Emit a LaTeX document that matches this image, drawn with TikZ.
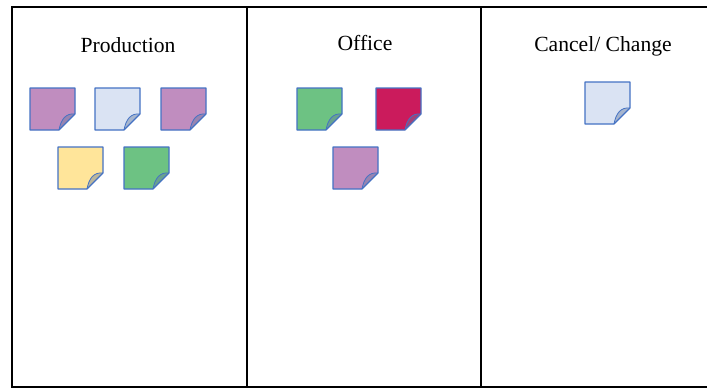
\documentclass[tikz,border=0pt]{standalone}
\usepackage{fontspec}
\setmainfont{Liberation Serif}
\definecolor{notepurple}{HTML}{C08DBF}
\definecolor{noteblue}{HTML}{DAE3F3}
\definecolor{noteyellow}{HTML}{FFE59A}
\definecolor{notegreen}{HTML}{6DC283}
\definecolor{notered}{HTML}{CB1B5C}
\definecolor{noteedge}{HTML}{4472C4}
\tikzset{
  frameline/.style={line width=2pt, black},
  heading/.style={font=\fontsize{21.6}{24}\selectfont, inner sep=0pt, anchor=center},
  pics/sticky/.style={code={
    \fill[#1] (0,0) -- (45,0) -- (45,26) -- (29,42) -- (0,42) -- cycle;
    \fill[#1!70!gray!80!noteedge] (45,26) .. controls (36,25) and (31,31) .. (29,42) -- cycle;
    \draw[noteedge, line width=1.1pt, line join=round] (0,0) -- (45,0) -- (45,26) -- (29,42) -- (0,42) -- cycle;
    \draw[noteedge, line width=0.8pt] (45,26) .. controls (36,25) and (31,31) .. (29,42);
    \coordinate (-c) at (22.5,21);
  }}
}
\begin{document}
\begin{tikzpicture}[x=1pt, y=-1pt]
\useasboundingbox (0,0) rectangle (707,389);
\fill[white] (0,0) rectangle (707,389);
% frame
\coordinate (tl) at (12,7);
\coordinate (tr) at (707,7);
\coordinate (bl) at (12,387);
\coordinate (br) at (707,387);
\coordinate (d1t) at (247,7);
\coordinate (d1b) at (247,387);
\coordinate (d2t) at (481,7);
\coordinate (d2b) at (481,387);
\draw[frameline] (tr) -- (tl) -- (bl) -- (br);
\draw[frameline] (d1t) -- (d1b);
\draw[frameline] (d2t) -- (d2b);
% headings
\node[heading] (prod) at (128,45) {Production};
\node[heading] (office) at (365,43) {Office};
\node[heading] (cancel) at (603,46) {Cancel/ Change};
% production notes
\pic (p1) at (30,88) {sticky=notepurple};
\pic (p2) at (95,88) {sticky=noteblue};
\pic (p3) at (161,88) {sticky=notepurple};
\pic (p4) at (58,147) {sticky=noteyellow};
\pic (p5) at (124,147) {sticky=notegreen};
% office notes
\pic (o1) at (297,88) {sticky=notegreen};
\pic (o2) at (376,88) {sticky=notered};
\pic (o3) at (333,147) {sticky=notepurple};
% cancel note
\pic (c1) at (585,82) {sticky=noteblue};
\end{tikzpicture}
\end{document}
